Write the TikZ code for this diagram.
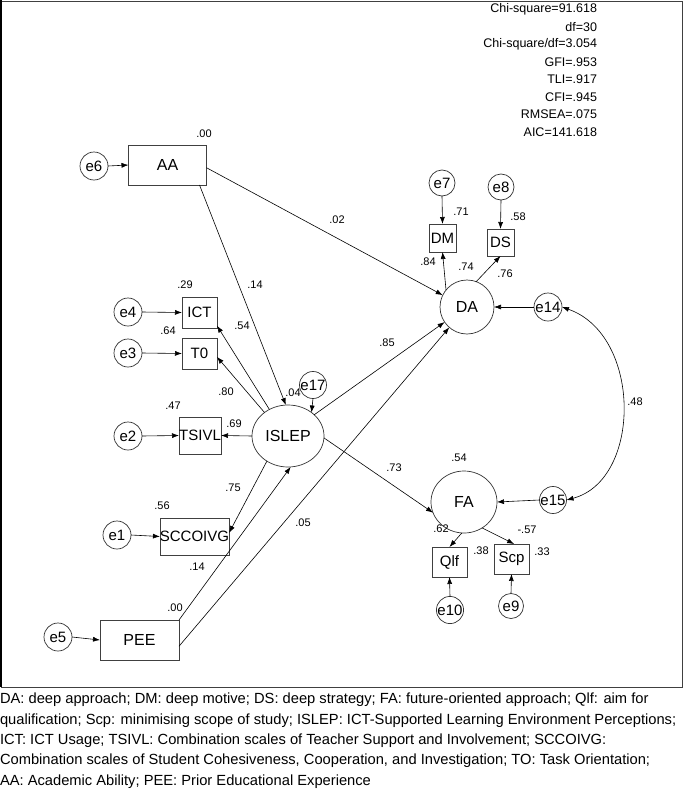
\documentclass[tikz,border=0pt]{standalone}
\usepackage{fontspec}
\setmainfont{Liberation Sans}
\usetikzlibrary{arrows.meta,shapes.geometric,calc}
\begin{document}
\begin{tikzpicture}[x=1pt,y=-1pt,
  every node/.style={inner sep=0pt,outer sep=0pt},
  obs/.style={draw=black!75,line width=0.8pt,rectangle,font=\fontsize{15}{17}\selectfont},
  lat/.style={draw=black!80,line width=0.7pt,ellipse,font=\fontsize{16}{18}\selectfont},
  err/.style={draw=black!80,line width=0.7pt,circle,minimum size=#1,font=\fontsize{15}{17}\selectfont},
  err/.default=28pt,
  lab/.style={font=\fontsize{11}{13}\selectfont},
  stat/.style={font=\fontsize{12.5}{14}\selectfont,anchor=east},
  captxt/.style={font=\fontsize{14.7}{17}\selectfont,anchor=west},
  arr/.style={line width=0.6pt,-{Latex[length=7pt,width=5pt]}},
  darr/.style={line width=0.6pt,{Latex[length=7pt,width=5pt]}-{Latex[length=7pt,width=5pt]}}
]
\useasboundingbox (0,0) rectangle (685,795);
\fill[white] (0,0) rectangle (685,795);
% frame
\draw[black!75,line width=0.8pt] (1,1) rectangle (682,687);
\draw[black,line width=1.6pt] (1,0) -- (1,687);

% fit statistics
\node[stat] (s1) at (597,9) {Chi-square=91.618};
\node[stat] (s2) at (597,26.6) {df=30};
\node[stat] (s3) at (597,44.2) {Chi-square/df=3.054};
\node[stat] (s4) at (597,61.8) {GFI=.953};
\node[stat] (s5) at (597,79.4) {TLI=.917};
\node[stat] (s6) at (597,97) {CFI=.945};
\node[stat] (s7) at (597,114.6) {RMSEA=.075};
\node[stat] (s8) at (597,132.2) {AIC=141.618};

% observed variables
\node[obs,minimum width=78pt,minimum height=40pt,font=\fontsize{16}{18}\selectfont] (AA) at (167.5,165) {AA};
\node[obs,minimum width=79pt,minimum height=40pt,font=\fontsize{16}{18}\selectfont] (PEE) at (139.5,640) {PEE};
\node[obs,minimum width=35pt,minimum height=31pt] (ICT) at (199.5,312.5) {ICT};
\node[obs,minimum width=35pt,minimum height=31pt] (T0) at (199.5,353.5) {T0};
\node[obs,minimum width=42pt,minimum height=37pt] (TSIVL) at (200,435.5) {TSIVL};
\node[obs,minimum width=66pt,minimum height=37pt] (SCC) at (194.5,536.5) {SCCOIVG};
\node[obs,minimum width=27pt,minimum height=28pt] (DM) at (442.5,238) {DM};
\node[obs,minimum width=27pt,minimum height=27pt] (DS) at (500.5,242.5) {DS};
\node[obs,minimum width=35pt,minimum height=30pt] (Qlf) at (449.5,562) {Qlf};
\node[obs,minimum width=35pt,minimum height=30pt] (Scp) at (511.5,559) {Scp};

% latent variables
\node[lat,minimum width=72pt,minimum height=62pt] (ISLEP) at (288,436) {ISLEP};
\node[lat,minimum width=54pt,minimum height=54pt] (DA) at (467,307) {DA};
\node[lat,minimum width=66pt,minimum height=62pt] (FA) at (464,502) {FA};

% error terms
\node[err] (e6) at (94,166) {e6};
\node[err] (e4) at (128,312) {e4};
\node[err] (e3) at (128,353) {e3};
\node[err] (e2) at (128,436) {e2};
\node[err] (e1) at (117,535) {e1};
\node[err] (e5) at (58,637) {e5};
\node[err=26pt] (e7) at (442,183) {e7};
\node[err=26pt] (e8) at (501,187) {e8};
\node[err] (e14) at (548,307) {e14};
\node[err=26pt] (e15) at (553,500) {e15};
\node[err=26pt] (e17) at (313,385) {e17};
\node[err=26pt] (e10) at (450,610) {e10};
\node[err=25pt] (e9) at (511,606) {e9};

% error arrows
\draw[arr] (e6.east) -- (AA.west);
\draw[arr] (e4.east) -- (ICT.west);
\draw[arr] (e3.east) -- (T0.west);
\draw[arr] (e2.east) -- (TSIVL.west);
\draw[arr] (e1.east) -- (SCC.west);
\draw[arr] (e5.east) -- (PEE.west);
\draw[arr] (e7.south) -- (DM.north);
\draw[arr] (e8.south) -- (DS.north);
\draw[arr] (e14.west) -- (DA.east);
\draw[arr] (e15.west) -- (FA.east);
\draw[arr] (e17.south) -- (ISLEP.45);
\draw[arr] (e10.north) -- (Qlf.south);
\draw[arr] (e9.north) -- (Scp.south);

% structural paths
\draw[arr] (AA.-4) -- (DA.154);
\draw[arr] (AA.-32) -- (ISLEP.94);
\draw[arr] (ISLEP.39) -- (DA.214);
\draw[arr] (PEE.-9) -- (DA.229);
\draw[arr] (PEE.north east) -- (ISLEP.-85);
\draw[arr] (ISLEP.-3) -- (FA.199);

% measurement paths
\draw[arr] (ISLEP.125) -- (ICT.-37);
\draw[arr] (ISLEP.135) -- (T0.-11);
\draw[arr] (ISLEP.west) -- (TSIVL.east);
\draw[arr] (ISLEP.230) -- (SCC.6);
\draw[arr] (DA.141) -- (DM.south);
\draw[arr] (DA.70) -- (DS.south);
\draw[arr] (FA.266) -- (Qlf.north);
\draw[arr] (FA.305) -- (Scp.80);

% covariance
\draw[darr] (e14.east) .. controls (642,335) and (642,480) .. (e15.east);

% coefficient labels
\node[lab] (l1) at (204,134) {.00};
\node[lab] (l2) at (337,220) {.02};
\node[lab] (l3) at (255,285) {.14};
\node[lab] (l4) at (185,285) {.29};
\node[lab] (l5) at (242,326) {.54};
\node[lab] (l6) at (168,331) {.64};
\node[lab] (l7) at (226,392) {.80};
\node[lab] (l8) at (293,393) {.04};
\node[lab] (l9) at (173,406) {.47};
\node[lab] (l10) at (234,424) {.69};
\node[lab] (l11) at (233,488) {.75};
\node[lab] (l12) at (162,506) {.56};
\node[lab] (l13) at (303,523) {.05};
\node[lab] (l14) at (197,567) {.14};
\node[lab] (l15) at (175,608) {.00};
\node[lab] (l16) at (461,212) {.71};
\node[lab] (l17) at (518,217) {.58};
\node[lab] (l18) at (428,262) {.84};
\node[lab] (l19) at (466,267) {.74};
\node[lab] (l20) at (505,274) {.76};
\node[lab] (l21) at (387,343) {.85};
\node[lab] (l22) at (635,402) {.48};
\node[lab] (l23) at (459,458) {.54};
\node[lab] (l24) at (394,468) {.73};
\node[lab] (l25) at (441,529) {.62};
\node[lab] (l26) at (527,530) {-.57};
\node[lab] (l27) at (481,551) {.38};
\node[lab] (l28) at (542,552) {.33};

% caption
\node[captxt] (c1) at (0,700) {DA: deep approach; DM: deep motive; DS: deep strategy; FA: future-oriented approach; Qlf: aim for};
\node[captxt] (c2) at (0,720.3) {qualification; Scp: minimising scope of study; ISLEP: ICT-Supported Learning Environment Perceptions;};
\node[captxt] (c3) at (0,740.6) {ICT: ICT Usage; TSIVL: Combination scales of Teacher Support and Involvement; SCCOIVG:};
\node[captxt] (c4) at (0,760.9) {Combination scales of Student Cohesiveness, Cooperation, and Investigation; TO: Task Orientation;};
\node[captxt] (c5) at (0,781.2) {AA: Academic Ability; PEE: Prior Educational Experience};
\end{tikzpicture}
\end{document}
